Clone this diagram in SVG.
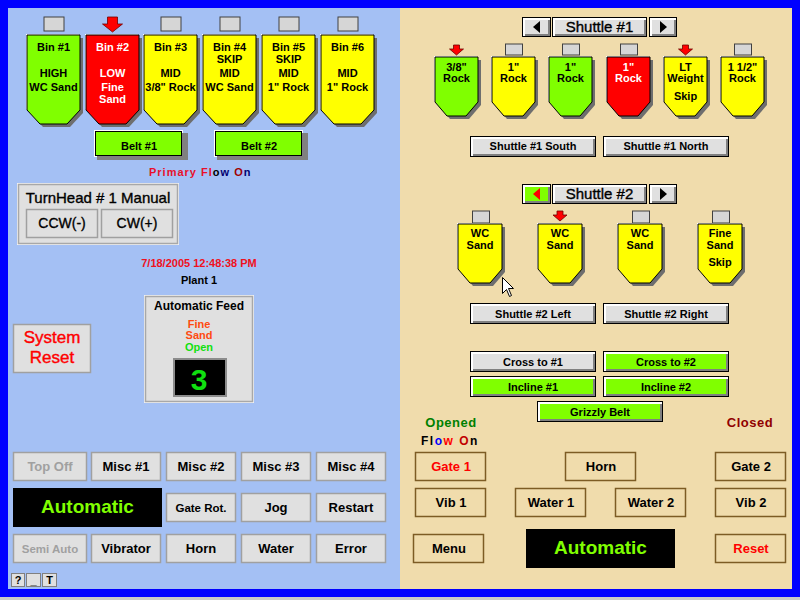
<svg xmlns="http://www.w3.org/2000/svg" xmlns:xlink="http://www.w3.org/1999/xlink" width="800" height="600" viewBox="0 0 800 600">
<style>
.t{font-family:"Liberation Sans",Arial,sans-serif;text-anchor:middle;fill:#000}
.b{font-weight:bold}
.md{stroke:#000;stroke-width:0.35}
.s11{font-size:11px}.s12{font-size:12px}.s13{font-size:13px}.s14{font-size:14px}.s15{font-size:15px}
.wt{fill:#fff}
.sh{fill:#6E6E6E}
.hl{fill:#fff}
.bin{stroke:#000;stroke-width:1}
.g{fill:#80FF00}.y{fill:#FFFF00}.r{fill:#FF0000}
.ind{fill:#D6D6D6;stroke:#404040;stroke-width:1}
.arr{fill:#FF0000;stroke:#700000;stroke-width:0.8}
.flat{fill:#E0E0E0;stroke:#A0A0A0;stroke-width:1.5}
.panel{fill:#E0E0E0;stroke:#A8A8A8;stroke-width:1.5}
.tanb{fill:none;stroke:#7D5C24;stroke-width:1.5}
.k{fill:#000}.w{fill:#fff}.s{fill:#808080}.f{fill:#E0E0E0}.fg{fill:#80FF00}
.fk{stroke:#000;stroke-width:1}
.disp{fill:#000}
.auto{fill:#80FF00;font-size:19px;font-weight:bold}
.dim{fill:#A0A0A0}
</style>
<defs>
<path id="binL" d="M0,0 H53 V75 L40,89 H13 L0,75 Z"/>
<path id="binR" d="M0,0 H43 V45 L31,59 H12 L0,45 Z"/>
<path id="binR2" d="M0,0 H44 V45 L32,59 H12 L0,45 Z"/>
<path id="arrL" d="M-5,0 H5 V7 H10 L0,15 L-10,7 H-5 Z"/>
<path id="arrS" d="M-3,0 H3 V4 H7 L0,10 L-7,4 H-3 Z"/>
</defs>

<!-- frame -->
<rect x="0" y="0" width="800" height="600" fill="#0000FF"/>
<rect x="8" y="8" width="392" height="581" fill="#A4C0F4"/>
<rect x="400" y="8" width="392" height="581" fill="#F0DCAC"/>
<rect x="0" y="597" width="800" height="3" fill="#C8C8C8"/>

<!-- left bins -->
<g id="bin1" transform="translate(27,35)">
 <rect class="ind" x="17" y="-18" width="20" height="14"/>
 <use xlink:href="#binL" class="sh" transform="translate(3,3)"/>
 <use xlink:href="#binL" class="hl" transform="translate(-1,-1)"/>
 <use xlink:href="#binL" class="bin g"/>
 <text class="t b s11" x="26.5" y="16">Bin #1</text>
 <text class="t b s11" x="26.5" y="42">HIGH</text>
 <text class="t b s11" x="26.5" y="56">WC Sand</text>
</g>
<g id="bin2" transform="translate(86,35)">
 <use xlink:href="#arrL" class="arr" transform="translate(26.5,-18)"/>
 <use xlink:href="#binL" class="sh" transform="translate(3,3)"/>
 <use xlink:href="#binL" class="hl" transform="translate(-1,-1)"/>
 <use xlink:href="#binL" class="bin r"/>
 <text class="t b s11 wt" x="26.5" y="16">Bin #2</text>
 <text class="t b s11 wt" x="26.5" y="42">LOW</text>
 <text class="t b s11 wt" x="26.5" y="56">Fine</text>
 <text class="t b s11 wt" x="26.5" y="68">Sand</text>
</g>
<g id="bin3" transform="translate(144,35)">
 <rect class="ind" x="17" y="-18" width="20" height="14"/>
 <use xlink:href="#binL" class="sh" transform="translate(3,3)"/>
 <use xlink:href="#binL" class="hl" transform="translate(-1,-1)"/>
 <use xlink:href="#binL" class="bin y"/>
 <text class="t b s11" x="26.5" y="16">Bin #3</text>
 <text class="t b s11" x="26.5" y="42">MID</text>
 <text class="t b s11" x="26.5" y="56">3/8" Rock</text>
</g>
<g id="bin4" transform="translate(203,35)">
 <rect class="ind" x="17" y="-18" width="20" height="14"/>
 <use xlink:href="#binL" class="sh" transform="translate(3,3)"/>
 <use xlink:href="#binL" class="hl" transform="translate(-1,-1)"/>
 <use xlink:href="#binL" class="bin y"/>
 <text class="t b s11" x="26.5" y="16">Bin #4</text>
 <text class="t b s11" x="26.5" y="28">SKIP</text>
 <text class="t b s11" x="26.5" y="42">MID</text>
 <text class="t b s11" x="26.5" y="56">WC Sand</text>
</g>
<g id="bin5" transform="translate(262,35)">
 <rect class="ind" x="17" y="-18" width="20" height="14"/>
 <use xlink:href="#binL" class="sh" transform="translate(3,3)"/>
 <use xlink:href="#binL" class="hl" transform="translate(-1,-1)"/>
 <use xlink:href="#binL" class="bin y"/>
 <text class="t b s11" x="26.5" y="16">Bin #5</text>
 <text class="t b s11" x="26.5" y="28">SKIP</text>
 <text class="t b s11" x="26.5" y="42">MID</text>
 <text class="t b s11" x="26.5" y="56">1" Rock</text>
</g>
<g id="bin6" transform="translate(321,35)">
 <rect class="ind" x="17" y="-18" width="20" height="14"/>
 <use xlink:href="#binL" class="sh" transform="translate(3,3)"/>
 <use xlink:href="#binL" class="hl" transform="translate(-1,-1)"/>
 <use xlink:href="#binL" class="bin y"/>
 <text class="t b s11" x="26.5" y="16">Bin #6</text>
 <text class="t b s11" x="26.5" y="42">MID</text>
 <text class="t b s11" x="26.5" y="56">1" Rock</text>
</g>

<!-- belts -->
<g id="belt1">
 <rect class="w" x="94" y="130" width="89" height="27"/>
 <rect class="s" x="97" y="133" width="91" height="27"/>
 <rect class="fg fk" x="95.5" y="131.5" width="86" height="24"/>
 <text class="t b s11" x="139" y="150">Belt #1</text>
</g>
<g id="belt2">
 <rect class="w" x="214" y="130" width="89" height="27"/>
 <rect class="s" x="217" y="133" width="91" height="27"/>
 <rect class="fg fk" x="215.5" y="131.5" width="86" height="24"/>
 <text class="t b s11" x="259" y="150">Belt #2</text>
</g>
<text id="primaryflow" class="b s11" x="149" y="176" style="font-family:'Liberation Sans',Arial,sans-serif;letter-spacing:1px"><tspan fill="#E8102A">Primary Fl</tspan><tspan fill="#000">o</tspan><tspan fill="#000070">w </tspan><tspan fill="#A00000">O</tspan><tspan fill="#000070">n</tspan></text>

<!-- turnhead -->
<g id="turnhead">
 <rect x="17.5" y="183.5" width="161" height="61" fill="none" stroke="#F4F4F4" stroke-width="1"/>
 <rect class="panel" x="18.5" y="184.5" width="159" height="59"/>
 <text class="t s15 md" x="98" y="203">TurnHead # 1 Manual</text>
 <rect class="flat" x="26.5" y="209.5" width="71" height="28"/>
 <text class="t s14 md" x="62" y="228">CCW(-)</text>
 <rect class="flat" x="101.5" y="209.5" width="71" height="28"/>
 <text class="t s14 md" x="137" y="228">CW(+)</text>
</g>

<text class="t b s11" x="199" y="267" style="fill:#F01020">7/18/2005 12:48:38 PM</text>
<text class="t b s11" x="199" y="284">Plant 1</text>

<g id="autofeed">
 <rect x="144.5" y="295.5" width="109" height="107" fill="none" stroke="#F4F4F4" stroke-width="1"/>
 <rect class="panel" x="145.5" y="296.5" width="107" height="105"/>
 <text class="t b s12" x="199" y="310">Automatic Feed</text>
 <text class="t b s11" x="199" y="328" style="fill:#FF4A10">Fine</text>
 <text class="t b s11" x="199" y="339" style="fill:#FF4A10">Sand</text>
 <text class="t b s11" x="199" y="351" style="fill:#10E010">Open</text>
 <rect x="174" y="359" width="52" height="37" fill="#000" stroke="#8C8C8C" stroke-width="2"/>
 <text class="t b" x="199" y="390" style="fill:#10E010;font-size:30px">3</text>
</g>

<g id="sysreset">
 <rect class="flat" x="13.5" y="324.5" width="77" height="48"/>
 <text class="t" x="52" y="343" style="fill:#FF0000;stroke:#FF0000;stroke-width:0.4;font-size:17px">System</text>
 <text class="t" x="52" y="363" style="fill:#FF0000;stroke:#FF0000;stroke-width:0.4;font-size:17px">Reset</text>
</g>

<!-- bottom-left buttons -->
<g id="btn-topoff"><rect class="flat" x="13.5" y="452.5" width="73" height="28"/><text class="t b s13 dim" x="50" y="471">Top Off</text></g>
<g id="btn-misc1"><rect class="flat" x="91.5" y="452.5" width="69" height="28"/><text class="t b s13" x="126" y="471">Misc #1</text></g>
<g id="btn-misc2"><rect class="flat" x="166.5" y="452.5" width="69" height="28"/><text class="t b s13" x="201" y="471">Misc #2</text></g>
<g id="btn-misc3"><rect class="flat" x="241.5" y="452.5" width="69" height="28"/><text class="t b s13" x="276" y="471">Misc #3</text></g>
<g id="btn-misc4"><rect class="flat" x="316.5" y="452.5" width="69" height="28"/><text class="t b s13" x="351" y="471">Misc #4</text></g>

<g id="auto-left"><rect class="disp" x="13" y="488" width="149" height="39"/><text class="t auto" x="87.5" y="513">Automatic</text></g>
<g id="btn-gaterot"><rect class="flat" x="166.5" y="493.5" width="69" height="28"/><text class="t b" x="201" y="512" style="font-size:11.5px">Gate Rot.</text></g>
<g id="btn-jog"><rect class="flat" x="241.5" y="493.5" width="69" height="28"/><text class="t b s13" x="276" y="512">Jog</text></g>
<g id="btn-restart"><rect class="flat" x="316.5" y="493.5" width="69" height="28"/><text class="t b s13" x="351" y="512">Restart</text></g>

<g id="btn-semiauto"><rect class="flat" x="13.5" y="534.5" width="73" height="28"/><text class="t b dim" x="50" y="553" style="font-size:11.5px">Semi Auto</text></g>
<g id="btn-vibrator"><rect class="flat" x="91.5" y="534.5" width="69" height="28"/><text class="t b s13" x="126" y="553">Vibrator</text></g>
<g id="btn-horn-l"><rect class="flat" x="166.5" y="534.5" width="69" height="28"/><text class="t b s13" x="201" y="553">Horn</text></g>
<g id="btn-water"><rect class="flat" x="241.5" y="534.5" width="69" height="28"/><text class="t b s13" x="276" y="553">Water</text></g>
<g id="btn-error"><rect class="flat" x="316.5" y="534.5" width="69" height="28"/><text class="t b s13" x="351" y="553">Error</text></g>

<g id="btn-small">
 <rect x="11.5" y="573.5" width="13" height="13" fill="#E0E0E0" stroke="#808080"/>
 <text class="t b s11" x="18" y="584">?</text>
 <rect x="26.5" y="573.5" width="14" height="13" fill="#E0E0E0" stroke="#808080"/>
 <text class="t b s11" x="33.5" y="584">_</text>
 <rect x="42.5" y="573.5" width="14" height="13" fill="#E0E0E0" stroke="#808080"/>
 <text class="t b s11" x="49.5" y="584">T</text>
</g>

<!-- Shuttle #1 header -->
<g id="sh1-left">
 <rect class="k" x="522" y="17" width="29" height="20"/><rect class="w" x="523" y="18" width="27" height="18"/><rect class="s" x="525" y="20" width="25" height="16"/><rect class="f" x="525" y="20" width="23" height="14"/>
 <polygon points="533,27 540,21 540,33" fill="#000"/>
</g>
<g id="sh1-label">
 <rect class="k" x="552" y="17" width="95" height="20"/><rect class="w" x="553" y="18" width="93" height="18"/><rect class="s" x="555" y="20" width="91" height="16"/><rect class="f" x="555" y="20" width="89" height="14"/>
 <text class="t s15 md" x="599.5" y="32">Shuttle #1</text>
</g>
<g id="sh1-right">
 <rect class="k" x="649" y="17" width="28" height="20"/><rect class="w" x="650" y="18" width="26" height="18"/><rect class="s" x="652" y="20" width="24" height="16"/><rect class="f" x="652" y="20" width="22" height="14"/>
 <polygon points="667,27 660,21 660,33" fill="#000"/>
</g>

<!-- Shuttle #1 bins -->
<g id="s1bin1" transform="translate(435,57)">
 <use xlink:href="#arrS" class="arr" transform="translate(21.5,-12)"/>
 <use xlink:href="#binR" class="sh" transform="translate(3,3)"/>
 <use xlink:href="#binR" class="hl" transform="translate(-1,-1)"/>
 <use xlink:href="#binR" class="bin g"/>
 <text class="t b s11" x="21.5" y="14">3/8"</text>
 <text class="t b s11" x="21.5" y="25">Rock</text>
</g>
<g id="s1bin2" transform="translate(492,57)">
 <rect class="ind" x="13.5" y="-13" width="17" height="11"/>
 <use xlink:href="#binR" class="sh" transform="translate(3,3)"/>
 <use xlink:href="#binR" class="hl" transform="translate(-1,-1)"/>
 <use xlink:href="#binR" class="bin y"/>
 <text class="t b s11" x="21.5" y="14">1"</text>
 <text class="t b s11" x="21.5" y="25">Rock</text>
</g>
<g id="s1bin3" transform="translate(549,57)">
 <rect class="ind" x="13.5" y="-13" width="17" height="11"/>
 <use xlink:href="#binR" class="sh" transform="translate(3,3)"/>
 <use xlink:href="#binR" class="hl" transform="translate(-1,-1)"/>
 <use xlink:href="#binR" class="bin g"/>
 <text class="t b s11" x="21.5" y="14">1"</text>
 <text class="t b s11" x="21.5" y="25">Rock</text>
</g>
<g id="s1bin4" transform="translate(607,57)">
 <rect class="ind" x="13.5" y="-13" width="17" height="11"/>
 <use xlink:href="#binR" class="sh" transform="translate(3,3)"/>
 <use xlink:href="#binR" class="hl" transform="translate(-1,-1)"/>
 <use xlink:href="#binR" class="bin r"/>
 <text class="t b s11 wt" x="21.5" y="14">1"</text>
 <text class="t b s11 wt" x="21.5" y="25">Rock</text>
</g>
<g id="s1bin5" transform="translate(664,57)">
 <use xlink:href="#arrS" class="arr" transform="translate(21.5,-12)"/>
 <use xlink:href="#binR" class="sh" transform="translate(3,3)"/>
 <use xlink:href="#binR" class="hl" transform="translate(-1,-1)"/>
 <use xlink:href="#binR" class="bin y"/>
 <text class="t b s11" x="21.5" y="14">LT</text>
 <text class="t b s11" x="21.5" y="25">Weight</text>
 <text class="t b s11" x="21.5" y="43">Skip</text>
</g>
<g id="s1bin6" transform="translate(721,57)">
 <rect class="ind" x="13.5" y="-13" width="17" height="11"/>
 <use xlink:href="#binR" class="sh" transform="translate(3,3)"/>
 <use xlink:href="#binR" class="hl" transform="translate(-1,-1)"/>
 <use xlink:href="#binR" class="bin y"/>
 <text class="t b s11" x="21.5" y="14">1 1/2"</text>
 <text class="t b s11" x="21.5" y="25">Rock</text>
</g>

<g id="sh1-south">
 <rect class="k" x="470" y="136" width="126" height="21"/><rect class="w" x="471" y="137" width="124" height="19"/><rect class="s" x="473" y="139" width="122" height="17"/><rect class="f" x="473" y="139" width="120" height="15"/>
 <text class="t b s11" x="533" y="150">Shuttle #1 South</text>
</g>
<g id="sh1-north">
 <rect class="k" x="603" y="136" width="126" height="21"/><rect class="w" x="604" y="137" width="124" height="19"/><rect class="s" x="606" y="139" width="122" height="17"/><rect class="f" x="606" y="139" width="120" height="15"/>
 <text class="t b s11" x="666" y="150">Shuttle #1 North</text>
</g>

<!-- Shuttle #2 header -->
<g id="sh2-left">
 <rect class="k" x="522" y="184" width="29" height="20"/><rect class="w" x="523" y="185" width="27" height="18"/><rect class="s" x="525" y="187" width="25" height="16"/><rect class="fg" x="525" y="187" width="23" height="14"/>
 <polygon points="533,194 540,188 540,200" fill="#FF0000"/>
</g>
<g id="sh2-label">
 <rect class="k" x="552" y="184" width="95" height="20"/><rect class="w" x="553" y="185" width="93" height="18"/><rect class="s" x="555" y="187" width="91" height="16"/><rect class="f" x="555" y="187" width="89" height="14"/>
 <text class="t s15 md" x="599.5" y="199">Shuttle #2</text>
</g>
<g id="sh2-right">
 <rect class="k" x="649" y="184" width="28" height="20"/><rect class="w" x="650" y="185" width="26" height="18"/><rect class="s" x="652" y="187" width="24" height="16"/><rect class="f" x="652" y="187" width="22" height="14"/>
 <polygon points="667,194 660,188 660,200" fill="#000"/>
</g>

<!-- Shuttle #2 bins -->
<g id="s2bin1" transform="translate(458,224)">
 <rect class="ind" x="14.5" y="-13" width="17" height="12"/>
 <use xlink:href="#binR2" class="sh" transform="translate(3,3)"/>
 <use xlink:href="#binR2" class="hl" transform="translate(-1,-1)"/>
 <use xlink:href="#binR2" class="bin y"/>
 <text class="t b s11" x="22" y="13">WC</text>
 <text class="t b s11" x="22" y="25">Sand</text>
</g>
<g id="s2bin2" transform="translate(538,224)">
 <use xlink:href="#arrS" class="arr" transform="translate(22,-13)"/>
 <use xlink:href="#binR2" class="sh" transform="translate(3,3)"/>
 <use xlink:href="#binR2" class="hl" transform="translate(-1,-1)"/>
 <use xlink:href="#binR2" class="bin y"/>
 <text class="t b s11" x="22" y="13">WC</text>
 <text class="t b s11" x="22" y="25">Sand</text>
</g>
<g id="s2bin3" transform="translate(618,224)">
 <rect class="ind" x="14.5" y="-13" width="17" height="12"/>
 <use xlink:href="#binR2" class="sh" transform="translate(3,3)"/>
 <use xlink:href="#binR2" class="hl" transform="translate(-1,-1)"/>
 <use xlink:href="#binR2" class="bin y"/>
 <text class="t b s11" x="22" y="13">WC</text>
 <text class="t b s11" x="22" y="25">Sand</text>
</g>
<g id="s2bin4" transform="translate(698,224)">
 <rect class="ind" x="14.5" y="-13" width="17" height="12"/>
 <use xlink:href="#binR2" class="sh" transform="translate(3,3)"/>
 <use xlink:href="#binR2" class="hl" transform="translate(-1,-1)"/>
 <use xlink:href="#binR2" class="bin y"/>
 <text class="t b s11" x="22" y="13">Fine</text>
 <text class="t b s11" x="22" y="25">Sand</text>
 <text class="t b s11" x="22" y="42">Skip</text>
</g>

<!-- cursor -->
<polygon points="502.5,277.5 502.5,293.5 506.5,289.5 509.5,296.5 511.5,295.5 508.5,288.5 513.5,288.5" fill="#fff" stroke="#000" stroke-width="1"/>

<g id="sh2-leftbtn">
 <rect class="k" x="470" y="303" width="126" height="21"/><rect class="w" x="471" y="304" width="124" height="19"/><rect class="s" x="473" y="306" width="122" height="17"/><rect class="f" x="473" y="306" width="120" height="15"/>
 <text class="t b s11" x="533" y="318">Shuttle #2 Left</text>
</g>
<g id="sh2-rightbtn">
 <rect class="k" x="603" y="303" width="126" height="21"/><rect class="w" x="604" y="304" width="124" height="19"/><rect class="s" x="606" y="306" width="122" height="17"/><rect class="f" x="606" y="306" width="120" height="15"/>
 <text class="t b s11" x="666" y="318">Shuttle #2 Right</text>
</g>
<g id="cross1">
 <rect class="k" x="470" y="351" width="126" height="21"/><rect class="w" x="471" y="352" width="124" height="19"/><rect class="s" x="473" y="354" width="122" height="17"/><rect class="f" x="473" y="354" width="120" height="15"/>
 <text class="t b s11" x="533" y="366">Cross to #1</text>
</g>
<g id="cross2">
 <rect class="k" x="603" y="351" width="126" height="21"/><rect class="w" x="604" y="352" width="124" height="19"/><rect class="s" x="606" y="354" width="122" height="17"/><rect class="fg" x="606" y="354" width="120" height="15"/>
 <text class="t b s11" x="666" y="366">Cross to #2</text>
</g>
<g id="incline1">
 <rect class="k" x="470" y="376" width="126" height="21"/><rect class="w" x="471" y="377" width="124" height="19"/><rect class="s" x="473" y="379" width="122" height="17"/><rect class="fg" x="473" y="379" width="120" height="15"/>
 <text class="t b s11" x="533" y="391">Incline #1</text>
</g>
<g id="incline2">
 <rect class="k" x="603" y="376" width="126" height="21"/><rect class="w" x="604" y="377" width="124" height="19"/><rect class="s" x="606" y="379" width="122" height="17"/><rect class="fg" x="606" y="379" width="120" height="15"/>
 <text class="t b s11" x="666" y="391">Incline #2</text>
</g>
<g id="grizzly">
 <rect class="k" x="537" y="401" width="126" height="21"/><rect class="w" x="538" y="402" width="124" height="19"/><rect class="s" x="540" y="404" width="122" height="17"/><rect class="fg" x="540" y="404" width="120" height="15"/>
 <text class="t b s11" x="600" y="416">Grizzly Belt</text>
</g>

<text class="t b s13" x="451" y="427" style="fill:#008000;letter-spacing:0.5px">Opened</text>
<text class="t b s13" x="750" y="427" style="fill:#900000;letter-spacing:0.5px">Closed</text>
<text id="flowon" class="b s12" x="421" y="445" style="font-family:'Liberation Sans',Arial,sans-serif;letter-spacing:1.5px"><tspan fill="#000">Fl</tspan><tspan fill="#0000FF">o</tspan><tspan fill="#FF0000">w </tspan><tspan fill="#C00000">O</tspan><tspan fill="#000">n</tspan></text>

<!-- bottom-right buttons -->
<g id="gate1"><rect class="tanb" x="415.5" y="452.5" width="70" height="28"/><text class="t b s13" x="451" y="471" style="fill:#FF0000">Gate 1</text></g>
<g id="horn-r"><rect class="tanb" x="565.5" y="452.5" width="70" height="28"/><text class="t b s13" x="601" y="471">Horn</text></g>
<g id="gate2"><rect class="tanb" x="715.5" y="452.5" width="70" height="28"/><text class="t b s13" x="751" y="471">Gate 2</text></g>
<g id="vib1"><rect class="tanb" x="415.5" y="488.5" width="70" height="28"/><text class="t b s13" x="451" y="507">Vib 1</text></g>
<g id="water1"><rect class="tanb" x="515.5" y="488.5" width="70" height="28"/><text class="t b s13" x="551" y="507">Water 1</text></g>
<g id="water2"><rect class="tanb" x="615.5" y="488.5" width="70" height="28"/><text class="t b s13" x="651" y="507">Water 2</text></g>
<g id="vib2"><rect class="tanb" x="715.5" y="488.5" width="70" height="28"/><text class="t b s13" x="751" y="507">Vib 2</text></g>
<g id="menu"><rect class="tanb" x="413.5" y="534.5" width="70" height="28"/><text class="t b s13" x="449" y="553">Menu</text></g>
<g id="auto-right"><rect class="disp" x="526" y="529" width="149" height="39"/><text class="t auto" x="600.5" y="554">Automatic</text></g>
<g id="reset"><rect class="tanb" x="715.5" y="534.5" width="70" height="28"/><text class="t b s13" x="751" y="553" style="fill:#FF0000">Reset</text></g>
</svg>
